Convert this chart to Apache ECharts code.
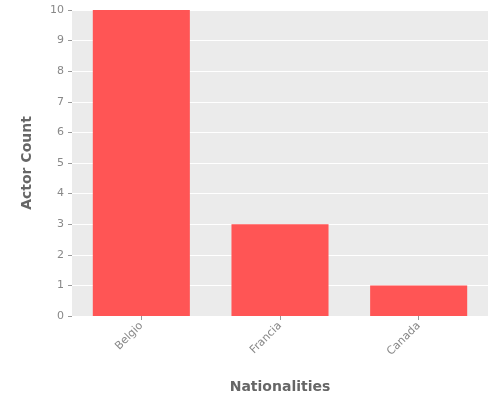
<!DOCTYPE html>
<html>
<head>
<meta charset="utf-8">
<script src="https://cdn.jsdelivr.net/npm/echarts@6/dist/echarts.min.js"></script>
<style>html,body{margin:0;padding:0;background:#fff}</style>
</head>
<body>
<div id="chart-container" style="width:500px;height:400px"></div>
<script>
var categories = ["Belgio", "Francia", "Canada"];
var counts = [10, 3, 1];

var dom = document.getElementById("chart-container");
var myChart = echarts.init(dom, null, { renderer: "canvas" });

var option = {
  textStyle: { fontFamily: "DejaVu Sans" },
  grid: {
    left: 72, right: 12, top: 10, bottom: 84,
    show: true, backgroundColor: "#EBEBEB", borderWidth: 0
  },
  xAxis: {
    type: "category",
    data: categories,
    name: "Nationalities",
    nameLocation: "middle",
    nameGap: 64,
    nameTextStyle: { color: "#666", fontSize: 14, fontWeight: "bold" },
    axisLine: { show: false },
    axisTick: { show: true, alignWithLabel: true, length: 4, lineStyle: { color: "#999" } },
    axisLabel: { rotate: 45, color: "#888", fontSize: 11, margin: 8 }
  },
  yAxis: {
    type: "value",
    min: 0, max: 10, interval: 1,
    name: "Actor Count",
    nameLocation: "middle",
    nameGap: 38,
    nameTextStyle: { color: "#666", fontSize: 14, fontWeight: "bold" },
    axisLine: { show: false },
    axisTick: { show: true, length: 4, lineStyle: { color: "#999" } },
    axisLabel: { color: "#888", fontSize: 11, margin: 8 },
    splitLine: { lineStyle: { color: "#fff", width: 1 } }
  },
  series: [{
    type: "bar",
    data: counts,
    barCategoryGap: "30%",
    itemStyle: { color: "#FF5555" }
  }]
};
myChart.setOption(option);
</script>
</body>
</html>
